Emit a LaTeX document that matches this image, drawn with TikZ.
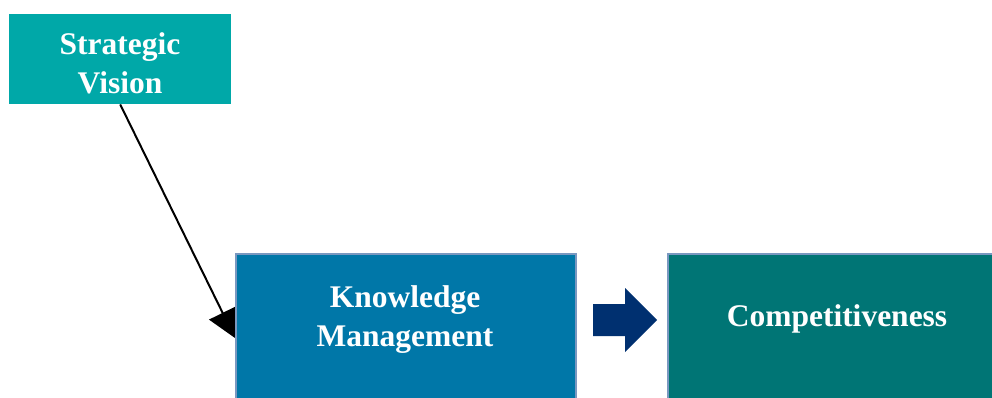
\documentclass[tikz,border=0pt]{standalone}
\usepackage{fontspec}
\setmainfont{Liberation Serif}
\usetikzlibrary{arrows.meta}
\definecolor{svfill}{RGB}{0,168,168}
\definecolor{kmfill}{RGB}{0,119,168}
\definecolor{cpfill}{RGB}{0,117,117}
\definecolor{boxedge}{RGB}{122,152,192}
\definecolor{navy}{RGB}{0,48,112}
\tikzset{
  boxlabel/.style={text=white,font=\fontsize{31.5}{39}\selectfont\bfseries,align=center,inner sep=0pt},
  svbox/.style={fill=svfill,draw=none,inner sep=0pt,anchor=north west,minimum width=222pt,minimum height=90pt},
  bigbox/.style={draw=boxedge,line width=2pt,inner sep=0pt,anchor=north west,minimum height=300pt},
}
\begin{document}
\begin{tikzpicture}[x=1pt,y=-1pt]
\useasboundingbox (0,0) rectangle (992,397);
\clip (0,0) rectangle (992,397);
\node[svbox] (sv) at (9,14) {};
\node[boxlabel] (svt) at (120,63) {Strategic\\Vision};
\coordinate (tip) at (235,338);
\draw[line width=2pt,-{Triangle[length=28pt,width=30pt]}] (sv.south) -- (tip);
\node[bigbox,fill=kmfill,minimum width=340pt] (km) at (234.5,253) {};
\node[boxlabel] (kmt) at (405,320) {Knowledge\\Management};
\node[bigbox,fill=cpfill,minimum width=340pt] (cp) at (667,253) {};
\node[boxlabel] (cpt) at (837,319) {Competitiveness};
\fill[navy] (593,304) -- (625,304) -- (625,288) -- (657,320) -- (625,352) -- (625,336) -- (593,336) -- cycle;
\end{tikzpicture}
\end{document}
